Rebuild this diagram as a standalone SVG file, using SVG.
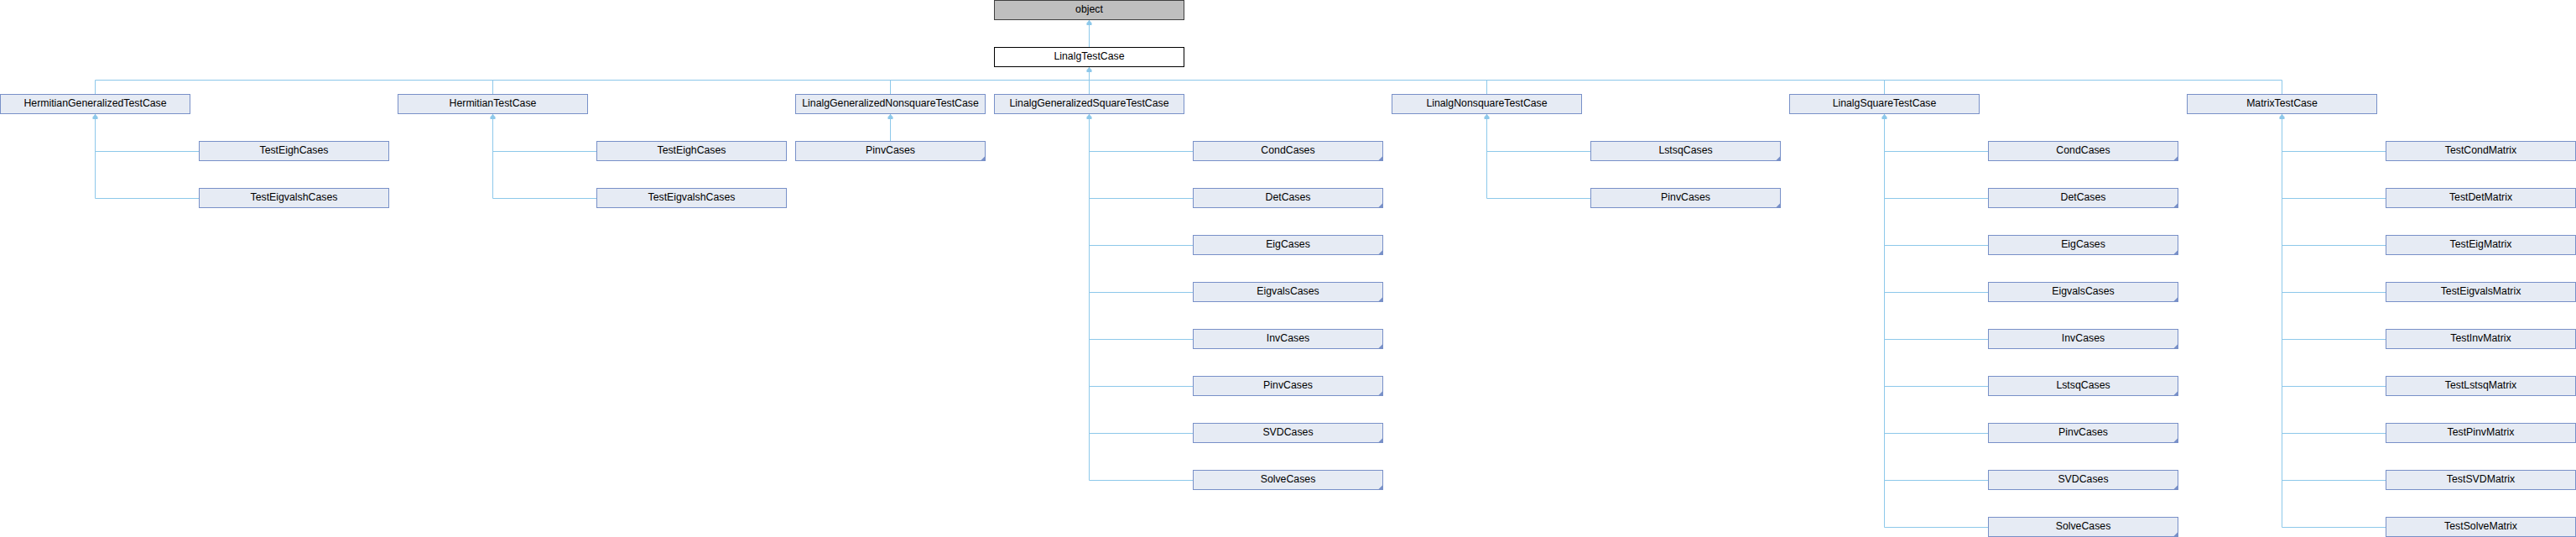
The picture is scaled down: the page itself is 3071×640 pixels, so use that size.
<svg xmlns="http://www.w3.org/2000/svg" xmlns:xlink="http://www.w3.org/1999/xlink" width="3071" height="640" viewBox="0 0 3071 640">
<style>
.n rect{fill:#E6EBF4;stroke:#7890C8;stroke-width:1}
.n text{font-family:"Liberation Sans",Arial,sans-serif;font-size:12.3px;fill:#000;text-anchor:middle}
#object rect{fill:#BFBFBF;stroke:#404040}
#LinalgTestCase rect{fill:#FFFFFF;stroke:#000000}
.e{stroke:#8DC8EA;stroke-width:1;fill:none}
.a{fill:#8DC8EA}
.c{fill:#7890C8}
</style>
<defs>
<polygon id="arr" class="a" points="0,0.5 3,4 3,6.5 -3,6.5 -3,4"/>
<polygon id="cor" class="c" points="0,-5.5 0,0 -5.5,0"/>
</defs>
<rect width="3071" height="640" fill="#FFFFFF"/>
<g id="connectors">
<path class="e" d="M1298.5,23.5V56.5"/>
<path class="e" d="M1298.5,79.5V112.5M113.5,95.5H2720.5M113.5,95.5V112.5M587.5,95.5V112.5M1061.5,95.5V112.5M1772.5,95.5V112.5M2246.5,95.5V112.5M2720.5,95.5V112.5"/>
<path class="e" d="M113.5,135.5V236.5M113.5,180.5H237.5M113.5,236.5H237.5"/>
<path class="e" d="M587.5,135.5V236.5M587.5,180.5H711.5M587.5,236.5H711.5"/>
<path class="e" d="M1061.5,135.5V168.5"/>
<path class="e" d="M1298.5,135.5V572.5M1298.5,180.5H1422.5M1298.5,236.5H1422.5M1298.5,292.5H1422.5M1298.5,348.5H1422.5M1298.5,404.5H1422.5M1298.5,460.5H1422.5M1298.5,516.5H1422.5M1298.5,572.5H1422.5"/>
<path class="e" d="M1772.5,135.5V236.5M1772.5,180.5H1896.5M1772.5,236.5H1896.5"/>
<path class="e" d="M2246.5,135.5V628.5M2246.5,180.5H2370.5M2246.5,236.5H2370.5M2246.5,292.5H2370.5M2246.5,348.5H2370.5M2246.5,404.5H2370.5M2246.5,460.5H2370.5M2246.5,516.5H2370.5M2246.5,572.5H2370.5M2246.5,628.5H2370.5"/>
<path class="e" d="M2720.5,135.5V628.5M2720.5,180.5H2844.5M2720.5,236.5H2844.5M2720.5,292.5H2844.5M2720.5,348.5H2844.5M2720.5,404.5H2844.5M2720.5,460.5H2844.5M2720.5,516.5H2844.5M2720.5,572.5H2844.5M2720.5,628.5H2844.5"/>
<use xlink:href="#arr" x="1298.5" y="23.5"/>
<use xlink:href="#arr" x="1298.5" y="79.5"/>
<use xlink:href="#arr" x="113.5" y="135.5"/>
<use xlink:href="#arr" x="587.5" y="135.5"/>
<use xlink:href="#arr" x="1061.5" y="135.5"/>
<use xlink:href="#arr" x="1298.5" y="135.5"/>
<use xlink:href="#arr" x="1772.5" y="135.5"/>
<use xlink:href="#arr" x="2246.5" y="135.5"/>
<use xlink:href="#arr" x="2720.5" y="135.5"/>
</g>
<g id="object" class="n"><rect x="1185.5" y="0.5" width="226" height="23"/><text x="1298.5" y="15">object</text></g>
<g id="LinalgTestCase" class="n"><rect x="1185.5" y="56.5" width="226" height="23"/><text x="1298.5" y="71">LinalgTestCase</text></g>
<g id="HermitianGeneralizedTestCase" class="n"><rect x="0.5" y="112.5" width="226" height="23"/><text x="113.5" y="127">HermitianGeneralizedTestCase</text></g>
<g id="HermitianTestCase" class="n"><rect x="474.5" y="112.5" width="226" height="23"/><text x="587.5" y="127">HermitianTestCase</text></g>
<g id="LinalgGeneralizedNonsquareTestCase" class="n"><rect x="948.5" y="112.5" width="226" height="23"/><text x="1061.5" y="127">LinalgGeneralizedNonsquareTestCase</text></g>
<g id="LinalgGeneralizedSquareTestCase" class="n"><rect x="1185.5" y="112.5" width="226" height="23"/><text x="1298.5" y="127">LinalgGeneralizedSquareTestCase</text></g>
<g id="LinalgNonsquareTestCase" class="n"><rect x="1659.5" y="112.5" width="226" height="23"/><text x="1772.5" y="127">LinalgNonsquareTestCase</text></g>
<g id="LinalgSquareTestCase" class="n"><rect x="2133.5" y="112.5" width="226" height="23"/><text x="2246.5" y="127">LinalgSquareTestCase</text></g>
<g id="MatrixTestCase" class="n"><rect x="2607.5" y="112.5" width="226" height="23"/><text x="2720.5" y="127">MatrixTestCase</text></g>

<g id="HG_TestEighCases" class="n"><rect x="237.5" y="168.5" width="226" height="23"/><text x="350.5" y="183">TestEighCases</text></g>
<g id="HG_TestEigvalshCases" class="n"><rect x="237.5" y="224.5" width="226" height="23"/><text x="350.5" y="239">TestEigvalshCases</text></g>
<g id="H_TestEighCases" class="n"><rect x="711.5" y="168.5" width="226" height="23"/><text x="824.5" y="183">TestEighCases</text></g>
<g id="H_TestEigvalshCases" class="n"><rect x="711.5" y="224.5" width="226" height="23"/><text x="824.5" y="239">TestEigvalshCases</text></g>
<g id="GN_PinvCases" class="n"><rect x="948.5" y="168.5" width="226" height="23"/><text x="1061.5" y="183">PinvCases</text><use xlink:href="#cor" x="1174.5" y="191.5"/></g>

<g id="GS_CondCases" class="n"><rect x="1422.5" y="168.5" width="226" height="23"/><text x="1535.5" y="183">CondCases</text><use xlink:href="#cor" x="1648.5" y="191.5"/></g>
<g id="GS_DetCases" class="n"><rect x="1422.5" y="224.5" width="226" height="23"/><text x="1535.5" y="239">DetCases</text><use xlink:href="#cor" x="1648.5" y="247.5"/></g>
<g id="GS_EigCases" class="n"><rect x="1422.5" y="280.5" width="226" height="23"/><text x="1535.5" y="295">EigCases</text><use xlink:href="#cor" x="1648.5" y="303.5"/></g>
<g id="GS_EigvalsCases" class="n"><rect x="1422.5" y="336.5" width="226" height="23"/><text x="1535.5" y="351">EigvalsCases</text><use xlink:href="#cor" x="1648.5" y="359.5"/></g>
<g id="GS_InvCases" class="n"><rect x="1422.5" y="392.5" width="226" height="23"/><text x="1535.5" y="407">InvCases</text><use xlink:href="#cor" x="1648.5" y="415.5"/></g>
<g id="GS_PinvCases" class="n"><rect x="1422.5" y="448.5" width="226" height="23"/><text x="1535.5" y="463">PinvCases</text><use xlink:href="#cor" x="1648.5" y="471.5"/></g>
<g id="GS_SVDCases" class="n"><rect x="1422.5" y="504.5" width="226" height="23"/><text x="1535.5" y="519">SVDCases</text><use xlink:href="#cor" x="1648.5" y="527.5"/></g>
<g id="GS_SolveCases" class="n"><rect x="1422.5" y="560.5" width="226" height="23"/><text x="1535.5" y="575">SolveCases</text><use xlink:href="#cor" x="1648.5" y="583.5"/></g>

<g id="N_LstsqCases" class="n"><rect x="1896.5" y="168.5" width="226" height="23"/><text x="2009.5" y="183">LstsqCases</text><use xlink:href="#cor" x="2122.5" y="191.5"/></g>
<g id="N_PinvCases" class="n"><rect x="1896.5" y="224.5" width="226" height="23"/><text x="2009.5" y="239">PinvCases</text><use xlink:href="#cor" x="2122.5" y="247.5"/></g>

<g id="S_CondCases" class="n"><rect x="2370.5" y="168.5" width="226" height="23"/><text x="2483.5" y="183">CondCases</text><use xlink:href="#cor" x="2596.5" y="191.5"/></g>
<g id="S_DetCases" class="n"><rect x="2370.5" y="224.5" width="226" height="23"/><text x="2483.5" y="239">DetCases</text><use xlink:href="#cor" x="2596.5" y="247.5"/></g>
<g id="S_EigCases" class="n"><rect x="2370.5" y="280.5" width="226" height="23"/><text x="2483.5" y="295">EigCases</text><use xlink:href="#cor" x="2596.5" y="303.5"/></g>
<g id="S_EigvalsCases" class="n"><rect x="2370.5" y="336.5" width="226" height="23"/><text x="2483.5" y="351">EigvalsCases</text><use xlink:href="#cor" x="2596.5" y="359.5"/></g>
<g id="S_InvCases" class="n"><rect x="2370.5" y="392.5" width="226" height="23"/><text x="2483.5" y="407">InvCases</text><use xlink:href="#cor" x="2596.5" y="415.5"/></g>
<g id="S_LstsqCases" class="n"><rect x="2370.5" y="448.5" width="226" height="23"/><text x="2483.5" y="463">LstsqCases</text><use xlink:href="#cor" x="2596.5" y="471.5"/></g>
<g id="S_PinvCases" class="n"><rect x="2370.5" y="504.5" width="226" height="23"/><text x="2483.5" y="519">PinvCases</text><use xlink:href="#cor" x="2596.5" y="527.5"/></g>
<g id="S_SVDCases" class="n"><rect x="2370.5" y="560.5" width="226" height="23"/><text x="2483.5" y="575">SVDCases</text><use xlink:href="#cor" x="2596.5" y="583.5"/></g>
<g id="S_SolveCases" class="n"><rect x="2370.5" y="616.5" width="226" height="23"/><text x="2483.5" y="631">SolveCases</text><use xlink:href="#cor" x="2596.5" y="639.5"/></g>

<g id="TestCondMatrix" class="n"><rect x="2844.5" y="168.5" width="226" height="23"/><text x="2957.5" y="183">TestCondMatrix</text></g>
<g id="TestDetMatrix" class="n"><rect x="2844.5" y="224.5" width="226" height="23"/><text x="2957.5" y="239">TestDetMatrix</text></g>
<g id="TestEigMatrix" class="n"><rect x="2844.5" y="280.5" width="226" height="23"/><text x="2957.5" y="295">TestEigMatrix</text></g>
<g id="TestEigvalsMatrix" class="n"><rect x="2844.5" y="336.5" width="226" height="23"/><text x="2957.5" y="351">TestEigvalsMatrix</text></g>
<g id="TestInvMatrix" class="n"><rect x="2844.5" y="392.5" width="226" height="23"/><text x="2957.5" y="407">TestInvMatrix</text></g>
<g id="TestLstsqMatrix" class="n"><rect x="2844.5" y="448.5" width="226" height="23"/><text x="2957.5" y="463">TestLstsqMatrix</text></g>
<g id="TestPinvMatrix" class="n"><rect x="2844.5" y="504.5" width="226" height="23"/><text x="2957.5" y="519">TestPinvMatrix</text></g>
<g id="TestSVDMatrix" class="n"><rect x="2844.5" y="560.5" width="226" height="23"/><text x="2957.5" y="575">TestSVDMatrix</text></g>
<g id="TestSolveMatrix" class="n"><rect x="2844.5" y="616.5" width="226" height="23"/><text x="2957.5" y="631">TestSolveMatrix</text></g>
</svg>
